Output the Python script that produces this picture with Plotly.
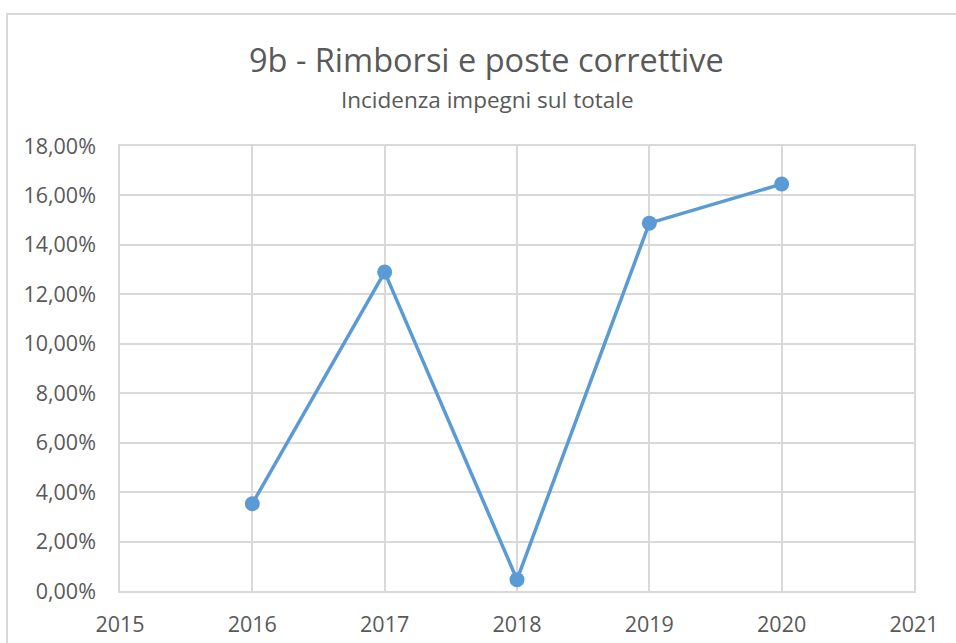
import plotly.graph_objects as go

# Incidenza degli impegni sul totale, per anno
anni = [2016, 2017, 2018, 2019, 2020]
incidenza = [0.0353, 0.1290, 0.0046, 0.1488, 0.1646]

titolo = "9b - Rimborsi e poste correttive"
sottotitolo = "Incidenza impegni sul totale"

grigio_testo = "#595959"
grigio_griglia = "#D9D9D9"
blu = "#5B9BD5"
font_base = "Open Sans, Liberation Sans, sans-serif"

fig = go.Figure()
fig.add_trace(go.Scatter(
    x=anni, y=incidenza, mode="lines+markers",
    line=dict(color=blu, width=3.5),
    marker=dict(color=blu, size=15),
    hovertemplate="%{x}: %{y:.2%}<extra></extra>",
))

fig.update_layout(
    width=956, height=643,
    paper_bgcolor="white", plot_bgcolor="white",
    margin=dict(l=120, r=42, t=146, b=52, autoexpand=False),
    separators=",.",
    showlegend=False,
    font=dict(family=font_base, color=grigio_testo, size=16),
    xaxis=dict(
        range=[2015, 2021], dtick=1, tick0=2015, automargin=False,
        showgrid=True, gridcolor=grigio_griglia, gridwidth=1.5,
        showline=True, linecolor=grigio_griglia, linewidth=1.5, mirror=True,
        zeroline=False, ticks="", ticklabelstandoff=13,
        tickfont=dict(size=21.5, color=grigio_testo),
    ),
    yaxis=dict(
        range=[0, 0.18], dtick=0.02, tickformat=".2%", automargin=False,
        showgrid=True, gridcolor=grigio_griglia, gridwidth=1.5,
        showline=True, linecolor=grigio_griglia, linewidth=1.5, mirror=True,
        zeroline=False, ticks="", ticklabelstandoff=18,
        tickfont=dict(size=21.5, color=grigio_testo),
    ),
)

# Titoli posizionati in pixel sopra l'area del grafico
h_plot = 643 - 146 - 52
w_plot = 956 - 120 - 42
fig.add_annotation(text=titolo, x=(486 - 120) / w_plot, y=1 + (146 - 60) / h_plot,
                   xref="paper", yref="paper", yanchor="middle",
                   showarrow=False, font=dict(size=32.5, color=grigio_testo))
fig.add_annotation(text=sottotitolo, x=(487 - 120) / w_plot, y=1 + (146 - 99) / h_plot,
                   xref="paper", yref="paper", yanchor="middle",
                   showarrow=False, font=dict(size=22.5, color=grigio_testo))

# Cornice dell'area del grafico
fig.add_shape(
    type="rect", xref="paper", yref="paper",
    x0=(7 - 120) / w_plot, x1=(970 - 120) / w_plot,
    y0=-(60) / h_plot, y1=1 + (146 - 14) / h_plot,
    line=dict(color=grigio_griglia, width=2), layer="below",
)

fig.write_html("out.html")
